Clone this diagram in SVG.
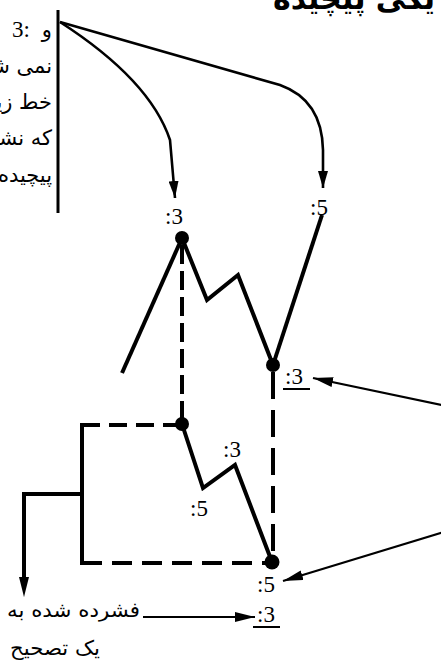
<svg xmlns="http://www.w3.org/2000/svg" width="441" height="667" viewBox="0 0 441 667">
<style>
.thick{stroke:#000;stroke-width:4;fill:none;stroke-linejoin:miter}
.thin{stroke:#000;stroke-width:2.6;fill:none}
.ptr{stroke:#000;stroke-width:2.2;fill:none}
.node{fill:#000}
.lbl{font-family:"Liberation Serif","Times New Roman",serif;font-size:23px;fill:#000}
.fa{font-family:"DejaVu Sans",sans-serif;fill:#000}
.note{font-family:"DejaVu Sans",sans-serif;font-size:21px;fill:#000}
</style>
<defs>
<marker id="ah" markerUnits="userSpaceOnUse" viewBox="0 0 17 10" refX="17" refY="5" markerWidth="17" markerHeight="10" orient="auto"><path d="M0,0 L17,5 L0,10 z" fill="#000"/></marker>
<marker id="ap" markerUnits="userSpaceOnUse" viewBox="0 0 20 10" refX="20" refY="5" markerWidth="20" markerHeight="10" orient="auto"><path d="M0,0 L20,5 L0,10 z" fill="#000"/></marker>
</defs>
<g id="title"><text class="fa" x="273" y="9" font-size="30" font-weight="bold">یکی پیچیده</text></g>
<g id="note">
<line x1="58" y1="10" x2="58" y2="213" stroke="#000" stroke-width="3"/>
<text class="lbl" x="30" y="37" text-anchor="end">3:</text>
<text class="note" x="52" y="37" text-anchor="end">و</text>
<text class="note" x="52" y="73" text-anchor="end">نمی شود</text>
<text class="note" x="52" y="109" text-anchor="end">خط زیگزاگ</text>
<text class="note" x="52" y="145" text-anchor="end">که نشان</text>
<text class="note" x="52" y="182" text-anchor="end">پیچیده</text>
</g>
<g id="connectors">
<path class="thin" d="M60,22 Q150,80 170,140 L175,198" marker-end="url(#ah)"/>
<path class="thin" d="M60,22 L280,85 Q322,100 323,150 L323,188" marker-end="url(#ah)"/>
<line class="ptr" x1="460" y1="409" x2="313" y2="378" marker-end="url(#ap)"/>
<line class="ptr" x1="460" y1="527" x2="283" y2="581" marker-end="url(#ap)"/>
<line class="ptr" x1="143" y1="617" x2="255" y2="617" marker-end="url(#ap)"/>
<path class="thick" d="M82,494 L24,494 L24,580"/>
<line x1="24" y1="575" x2="24" y2="597" stroke="#000" stroke-width="0.1" marker-end="url(#ap)"/>
<path class="thick" d="M182,238 L122,373"/>
<path class="thick" d="M182,238 L207,300 L238,275 L273,365"/>
<path class="thick" d="M273,365 L322,215"/>
<path class="thick" d="M182,424 L203,488 L235,465 L272,562"/>
<path class="thick" d="M182,245 L182,424" stroke-dasharray="19 7"/>
<path class="thick" d="M273,372 L273,562" stroke-dasharray="27 11"/>
<path class="thick" d="M82,425 L182,425" stroke-dasharray="18 9"/>
<path class="thick" d="M82,563 L272,563" stroke-dasharray="20 10"/>
<path class="thick" d="M82,423 L82,565"/>
</g>
<g id="n1"><circle class="node" cx="182" cy="238" r="7"/></g>
<g id="n2"><circle class="node" cx="273" cy="365" r="7"/></g>
<g id="n3"><circle class="node" cx="182" cy="424" r="7"/></g>
<g id="n4"><circle class="node" cx="272" cy="562" r="7.5"/></g>
<g id="labels">
<text class="lbl" x="165" y="224">:3</text>
<text class="lbl" x="310" y="215">:5</text>
<text class="lbl" x="285" y="384">:3</text>
<line x1="283" y1="389" x2="310" y2="389" stroke="#000" stroke-width="2"/>
<text class="lbl" x="223" y="457">:3</text>
<text class="lbl" x="190" y="516">:5</text>
<text class="lbl" x="257" y="592">:5</text>
<text class="lbl" x="257" y="622">:3</text>
<line x1="253" y1="627" x2="280" y2="627" stroke="#000" stroke-width="2"/>
<text class="fa" x="7" y="617" font-size="20" textLength="133" lengthAdjust="spacingAndGlyphs">فشرده شده به</text>
<text class="fa" x="10" y="655" font-size="20" textLength="90" lengthAdjust="spacingAndGlyphs">یک تصحیح</text>
</g>
</svg>
